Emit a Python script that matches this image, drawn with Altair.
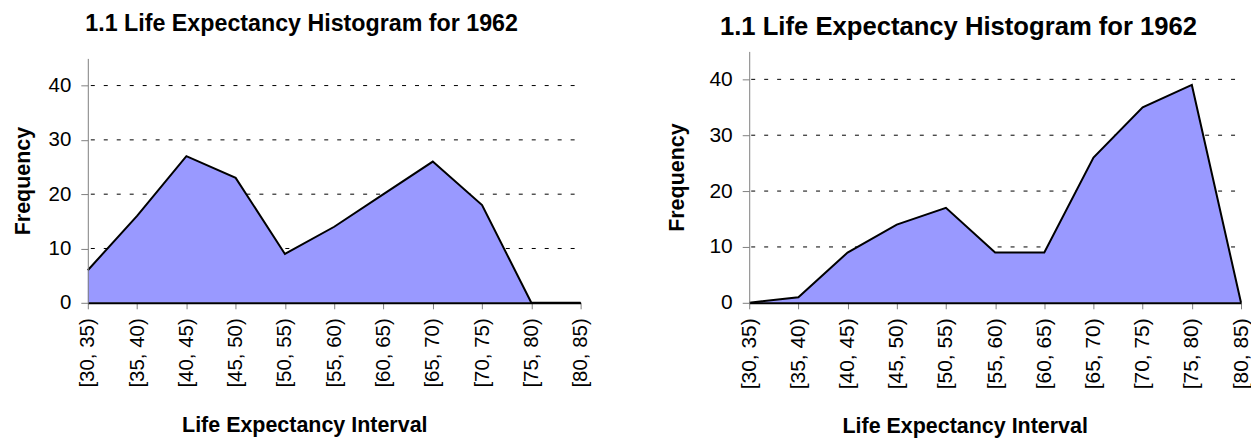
import altair as alt
import pandas as pd

intervals = ["[30, 35)", "[35, 40)", "[40, 45)", "[45, 50)", "[50, 55)", "[55, 60)",
             "[60, 65)", "[65, 70)", "[70, 75)", "[75, 80)", "[80, 85)"]
freq_left = [6, 16, 27, 23, 9, 14, 20, 26, 18, 0, 0]
freq_right = [0, 1, 9, 14, 17, 9, 9, 26, 35, 39, 0]
grid_values = [10, 20, 30, 40]
y_ticks = [0, 10, 20, 30, 40]
y_domain = [0, 45]
chart_title = "1.1 Life Expectancy Histogram for 1962"
x_title = "Life Expectancy Interval"
y_title = "Frequency"

FONT = "Liberation Sans"
FILL = "#9999ff"
PANEL_H = 252


def panel(freqs, width, y_range, title_size, title_offset, label_size,
          y_title_pad, x_title_x, x_title_pad):
    df = pd.DataFrame({"interval": intervals, "freq": freqs})
    grid_df = pd.DataFrame({"g": grid_values})
    yscale = alt.Scale(domain=y_domain, nice=False, zero=True, range=y_range)

    y_axis = alt.Axis(
        title=y_title, titleFont=FONT, titleFontSize=21.5, titleFontWeight="bold",
        titleColor="black", titlePadding=y_title_pad,
        values=y_ticks, labelFont=FONT, labelFontSize=label_size,
        labelColor="black", labelPadding=10, tickSize=7,
        tickColor="#808080", tickWidth=1, domainColor="#808080",
        domainWidth=1, grid=False, zindex=1,
    )
    x_axis = alt.Axis(
        title=x_title, titleFont=FONT, titleFontSize=21.5, titleFontWeight="bold",
        titleColor="black", titlePadding=x_title_pad, titleX=x_title_x,
        titleAlign="center",
        labelAngle=270, labelAlign="right", labelBaseline="middle",
        labelFont=FONT, labelFontSize=label_size, labelColor="black",
        labelPadding=9, tickSize=6, tickColor="#808080", tickWidth=1,
        domainColor="black", domainWidth=2, grid=False, zindex=1,
    )
    xscale = alt.Scale(type="point", padding=0)

    grid = alt.Chart(grid_df).mark_rule(
        color="black", strokeWidth=1, strokeDash=[4, 9], strokeDashOffset=-6
    ).encode(y=alt.Y("g:Q", scale=yscale, axis=y_axis))

    area = alt.Chart(df).mark_area(color=FILL, opacity=1).encode(
        x=alt.X("interval:N", sort=intervals, scale=xscale, axis=x_axis),
        y=alt.Y("freq:Q", scale=yscale, axis=y_axis),
    )
    line = alt.Chart(df).mark_line(color="black", strokeWidth=2).encode(
        x=alt.X("interval:N", sort=intervals, scale=xscale, axis=x_axis),
        y=alt.Y("freq:Q", scale=yscale, axis=y_axis),
    )

    return alt.layer(grid, area, line).properties(
        width=width, height=PANEL_H,
        title=alt.TitleParams(
            text=chart_title, font=FONT, fontSize=title_size, fontWeight="bold",
            color="black", anchor="middle", frame="bounds", offset=title_offset,
        ),
    )


left = panel(freq_left, 494, [PANEL_H, 7], 23.3, 15, 20.5, 14, 217, 27)
right = panel(freq_right, 493, [PANEL_H, 0], 25.7, 11, 21, 21, 216, 27)

chart = alt.hconcat(left, right, spacing=74).properties(
    padding={"left": 4, "top": 3, "right": 0, "bottom": 0}
).configure_view(stroke=None)

chart.save("out.html", embed_options={"renderer": "svg", "actions": False})
